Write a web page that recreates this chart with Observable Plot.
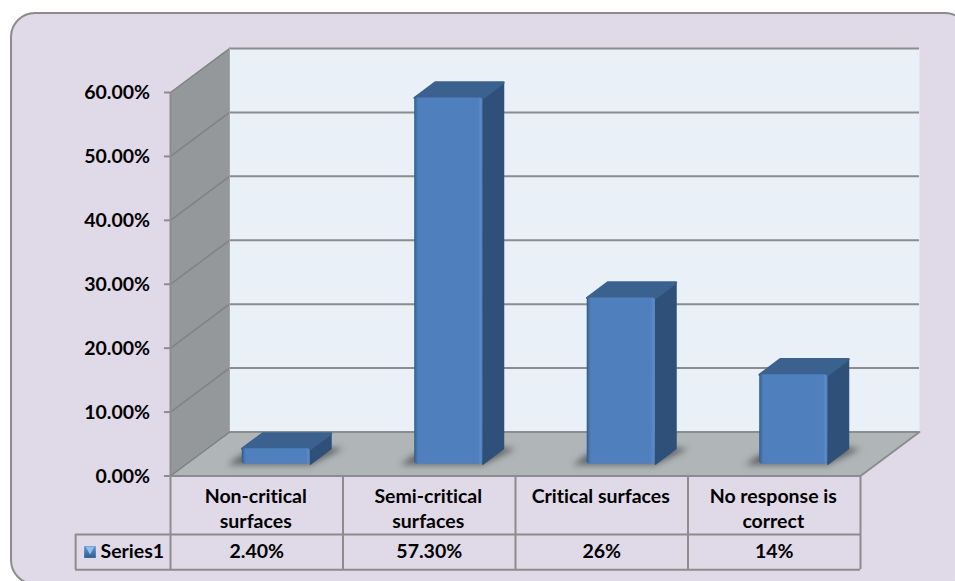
<!DOCTYPE html>
<html>
<head>
<meta charset="utf-8">
<script src="https://cdn.jsdelivr.net/npm/d3@7"></script>
<script src="https://cdn.jsdelivr.net/npm/@observablehq/plot@0.6"></script>
<style>
  html, body { margin: 0; padding: 0; background: #fff; overflow: hidden; }
  #chart { position: relative; width: 955px; height: 581px; overflow: hidden; }
  #panel {
    position: absolute; left: 10px; top: 12px; width: 960px; height: 573px;
    background: #e0d9e8; border: 2px solid #8c8c8c; border-radius: 25px; box-sizing: border-box;
  }
  #chart svg { position: absolute; left: 0; top: 0; background: transparent; font-variant-ligatures: none; }
</style>
</head>
<body>
<div id="chart"><div id="panel"></div></div>
<script>
// Survey results
const categories = ["Non-critical\nsurfaces", "Semi-critical\nsurfaces", "Critical surfaces", "No response is\ncorrect"];
const values = [0.024, 0.573, 0.26, 0.14];
const valueLabels = ["2.40%", "57.30%", "26%", "14%"];
const seriesName = "Series1";
const yTicks = [0, 0.1, 0.2, 0.3, 0.4, 0.5, 0.6];

// Oblique projection: depth runs up and to the right, in scale units
const wallDepth = {x: 0.342, y: 0.0688};
const project = (x, y, d) => ({x: x + wallDepth.x * d, y: y + wallDepth.y * d});
const barFrontDepth = 0.27, barBackDepth = 0.62;
const barOffset = 0.3234, barWidth = 0.395;
const yMax = 0.6, xMax = 4;

// Each polygon is a list of vertices with a shared id, closed for stroking
const polygons = (list) => list.flatMap((pts, id) =>
  [...pts, pts[0]].map((p) => ({...p, id})));
const polygon = (list, options) =>
  Plot.line(polygons(list), {x: "x", y: "y", z: "id", stroke: "none", ...options});

const bars = values.map((v, i) => {
  const x1 = i + barOffset, x2 = x1 + barWidth;
  return {i, v, x1, x2};
});
const frontPoint = (x, y) => project(x, y, barFrontDepth);
const backPoint = (x, y) => project(x, y, barBackDepth);

const sideFaces = bars.map((b) => [frontPoint(b.x2, 0), backPoint(b.x2, 0), backPoint(b.x2, b.v), frontPoint(b.x2, b.v)]);
const topFaces = bars.map((b) => [frontPoint(b.x1, b.v), frontPoint(b.x2, b.v), backPoint(b.x2, b.v), backPoint(b.x1, b.v)]);
const frontFaces = bars.map((b) => ({
  x1: frontPoint(b.x1, 0).x, x2: frontPoint(b.x2, 0).x,
  y1: frontPoint(0, 0).y, y2: frontPoint(0, b.v).y
}));
// Soft shadows cast on the floor, behind and to both sides of each bar
const shadows = bars.map((b) => [
  frontPoint(b.x1 - 0.085, -0.001), frontPoint(b.x2, -0.001),
  backPoint(b.x2 + 0.07, 0), backPoint(b.x2, 0.002), frontPoint(b.x1, 0.015)
]);

const gridColor = "#8c8c8c";
const columnEdges = [0, 1, 2, 3, 4];
const rowOne = -0.0915, rowTwo = -0.1465;
const tableLeft = -0.55;
const tickLength = 0.035;

const plot = Plot.plot({
  width: 955, height: 581,
  marginLeft: 0, marginRight: 0, marginTop: 0, marginBottom: 0,
  style: {background: "transparent", fontFamily: "Lato, 'Open Sans', sans-serif", fontSize: "19.5px", fontWeight: 700, color: "#000"},
  x: {domain: [0, xMax], range: [170, 860], axis: null},
  y: {domain: [0, yMax], range: [475.5, 92], axis: null},
  marks: [
    // Walls and floor
    polygon([[project(0, 0, 1), project(4, 0, 1), project(4, yMax, 1), project(0, yMax, 1)]], {fill: "#e9f0f8"}),
    polygon([[project(0, 0, 0), project(0, 0, 1), project(0, yMax, 1), project(0, yMax, 0)]], {fill: "#95989b"}),
    polygon([[project(0, 0, 0), project(0, 0, 1), project(4, 0, 1), project(4, 0, 0)]], {fill: "#b0b5b7"}),

    // Gridlines across the back wall and down the side wall
    Plot.ruleY(yTicks, {
      y: (t) => project(0, t, 1).y, x1: project(0, 0, 1).x, x2: project(4, 0, 1).x,
      stroke: gridColor, strokeWidth: 2
    }),
    Plot.line(yTicks.flatMap((t) => [project(0, t, 0), project(0, t, 1)].map((p) => ({...p, t}))), {
      x: "x", y: "y", z: "t", stroke: "#7f8285", strokeWidth: 1.5
    }),
    Plot.ruleX([0], {y1: 0, y2: yMax, stroke: gridColor, strokeWidth: 2}),
    Plot.ruleX([project(0, 0, 1).x], {y1: project(0, 0, 1).y, y2: project(0, yMax, 1).y, stroke: "#a3a6a9", strokeWidth: 1}),
    Plot.line([project(4, 0, 0), project(4, 0, 1)], {x: "x", y: "y", stroke: gridColor, strokeWidth: 2}),
    Plot.ruleY([0], {x1: 0, x2: xMax, stroke: gridColor, strokeWidth: 2}),

    // Bars: floor shadow, side, top, front
    polygon(shadows, {fill: "#4d5153", fillOpacity: 0.8, imageFilter: "blur(3px)"}),
    polygon(sideFaces, {fill: "#2f5079", stroke: "#2f5079", strokeWidth: 1.5, strokeLinejoin: "round"}),
    polygon(topFaces, {fill: "#3b628f", stroke: "#3b628f", strokeWidth: 2.5, strokeLinejoin: "round"}),
    Plot.rect(frontFaces, {x1: "x1", x2: "x2", y1: "y1", y2: "y2", fill: "url(#barFront)", rx: 3}),

    // Value axis: ticks and labels on the front edge of the side wall
    Plot.ruleY(yTicks, {x1: -tickLength, x2: 0, stroke: gridColor, strokeWidth: 2}),
    Plot.text(yTicks, {
      x: 0, y: (d) => d, dx: -20.5, dy: 0.5, text: d3.format(".2%"), textAnchor: "end"
    }),

    // Data table grid
    Plot.ruleX(columnEdges, {y1: 0, y2: rowTwo, stroke: gridColor, strokeWidth: 2}),
    Plot.ruleY([rowOne, rowTwo], {x1: tableLeft, x2: xMax, stroke: gridColor, strokeWidth: 2}),
    Plot.ruleX([tableLeft], {y1: rowOne, y2: rowTwo, stroke: gridColor, strokeWidth: 2}),

    // Data table text
    Plot.text(categories, {
      x: (d, i) => i + 0.5, y: 0, dx: -1, dy: 9, text: (d) => d,
      lineAnchor: "top", lineHeight: 1.28, textAnchor: "middle"
    }),
    Plot.text(valueLabels, {
      x: (d, i) => i + 0.5, y: (rowOne + rowTwo) / 2, text: (d) => d, textAnchor: "middle"
    }),
    Plot.text([seriesName], {x: 0, y: (rowOne + rowTwo) / 2, dx: -70, text: (d) => d, textAnchor: "start"}),

    // Legend key beside the series name
    Plot.dot([seriesName], {
      x: 0, y: (rowOne + rowTwo) / 2, dx: -80.5, symbol: "square", r: 6.6, fill: "url(#legendKey)"
    }),
    Plot.dot([seriesName], {
      x: 0, y: (rowOne + rowTwo) / 2, dx: -80.5, dy: -2.5, symbol: "triangle", r: 3.2, rotate: 180, fill: "#8fc0ea"
    })
  ]
});

// Gradients used by the bar fronts and legend key
const defs = d3.select(plot).insert("defs", ":first-child");
const front = defs.append("linearGradient").attr("id", "barFront").attr("x1", 0).attr("x2", 1).attr("y1", 0).attr("y2", 0);
[[0, "#2c5688"], [0.025, "#41709f"], [0.06, "#4f7fbc"], [0.94, "#4f7fbc"], [0.975, "#5a8ccc"], [1, "#4a7cb8"]]
  .forEach(([o, c]) => front.append("stop").attr("offset", o).attr("stop-color", c));
const key = defs.append("linearGradient").attr("id", "legendKey").attr("x1", 0).attr("x2", 0).attr("y1", 0).attr("y2", 1);
[[0, "#5f96cf"], [1, "#2f5d92"]]
  .forEach(([o, c]) => key.append("stop").attr("offset", o).attr("stop-color", c));

document.getElementById("chart").appendChild(plot);
</script>
</body>
</html>
